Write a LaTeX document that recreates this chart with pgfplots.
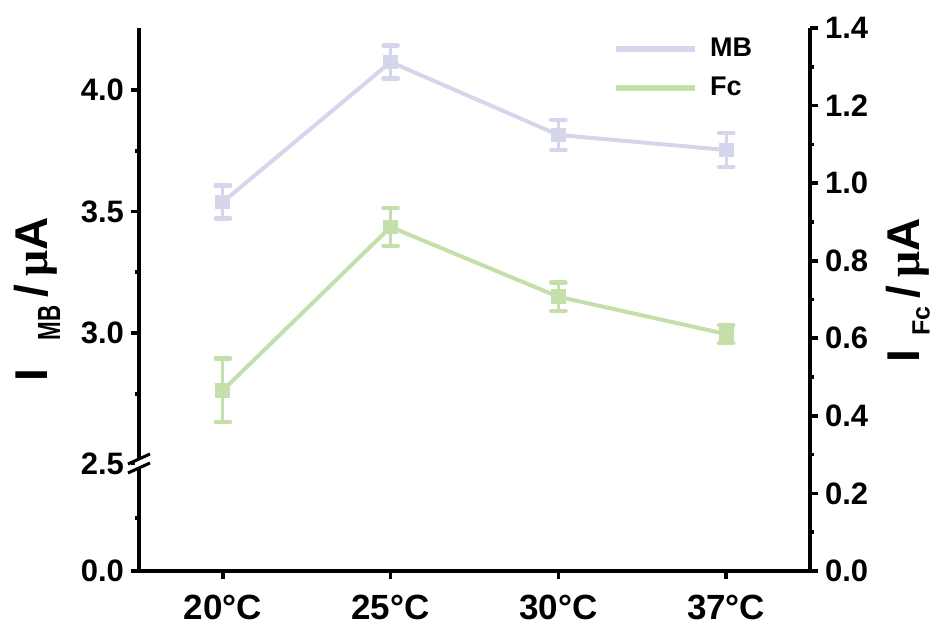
\documentclass[border=0pt]{standalone}
\usepackage{pgfplots}
\pgfplotsset{compat=1.18}
\usepackage{fontspec}
\setmainfont{Liberation Sans}
\newfontfamily\serifmu{Liberation Serif}
\definecolor{mbcol}{RGB}{213,213,235}
\definecolor{fccol}{RGB}{197,223,170}

\pgfplotstableread{
x y e
0 3.539 0.068
1 4.115 0.068
2 3.815 0.062
3 3.753 0.070
}\mbdata
\pgfplotstableread{
x y e
0 0.466 0.082
1 0.887 0.049
2 0.707 0.037
3 0.611 0.023
}\fcdata

\begin{document}
\begin{tikzpicture}
\useasboundingbox (-69.5pt,-31pt) rectangle (399.5pt,285.5pt);
\pgfplotsset{
  every axis/.append style={
    at={(0,0)}, anchor=south west,
    width=335.5pt, height=271.5pt, scale only axis,
    xmin=-0.5, xmax=3.5, clip=false,
    axis line style={-, line width=2pt, black},
    tick style={line width=1.8pt, black},
    tick align=outside,
    major tick length=4pt, minor tick length=2pt,
    /pgf/number format/assume math mode=true,
    yticklabel style={font=\fontsize{15.5}{15.5}\selectfont\bfseries},
  },
  errstyle/.style={
    error bars/.cd, y dir=both, y explicit,
    error bar style={line width=1.6pt},
    error mark options={rotate=90, mark size=3.6pt, line width=2.2pt, line cap=round},
  },
}
\begin{axis}[
  axis y line*=left, axis x line*=bottom,
  ymin=2.0206, ymax=4.255,
  ytick={2.0206,2.463,3,3.5,4}, yticklabels={0.0,2.5,3.0,3.5,4.0},
  minor ytick={2.239,2.75,3.25,3.75},
  xtick={0,1,2,3}, xticklabels={20°C,25°C,30°C,37°C},
  xticklabel style={font=\fontsize{17.5}{17.5}\selectfont\bfseries, yshift=-4.5pt},
  ylabel={\bfseries\fontsize{23}{23}\selectfont I\hspace{14pt}\raisebox{-6.5pt}{\scalebox{0.7}[1]{\fontsize{16}{16}\selectfont MB}}\hspace{4pt}/\hspace{4pt}{\serifmu\bfseries μ}A},
  ylabel style={at={(axis description cs:-0.152,0.5)}, anchor=center},
]
\addplot[mbcol, line width=2pt, mark=square*, mark size=2.7pt, mark options={solid}, errstyle]
  table[x=x, y=y, y error=e] {\mbdata};
\coordinate (brk) at (axis cs:-0.5,2.463);
\end{axis}
\begin{axis}[
  axis y line*=right, axis x line=none,
  ymin=0, ymax=1.4,
  ytick={0,0.2,0.4,0.6,0.8,1.0,1.2,1.4}, minor y tick num=1,
  yticklabel={\pgfmathprintnumber[fixed,fixed zerofill,precision=1]{\tick}},
  ylabel={\bfseries\fontsize{23}{23}\selectfont I\hspace{7pt}\raisebox{-5pt}{\fontsize{12.5}{12.5}\selectfont Fc}\hspace{4pt}/\hspace{4pt}{\serifmu\bfseries μ}A},
  ylabel style={at={(axis description cs:1.146,0.517)}, anchor=center},
  legend style={draw=none, fill=none, at={(axis description cs:0.706,0.99)}, anchor=north west,
    font=\fontsize{13.5}{13.5}\selectfont\bfseries, row sep=5pt, inner sep=0pt},
  legend cell align=left,
  legend image code/.code={\draw[line width=3pt] (0pt,0pt) -- (39.5pt,0pt);},
]
\addlegendimage{mbcol, line width=3pt}
\addlegendentry{\hspace{4pt}MB}
\addplot[fccol, line width=2pt, mark=square*, mark size=2.7pt, mark options={solid}, errstyle]
  table[x=x, y=y, y error=e] {\fcdata};
\addlegendentry{\hspace{4pt}Fc}
\end{axis}
% axis break
\fill[white] ([shift={(-2pt,1.34pt)}]brk) -- ([shift={(2pt,3.16pt)}]brk) -- ([shift={(2pt,-1.34pt)}]brk) -- ([shift={(-2pt,-3.16pt)}]brk) -- cycle;
\draw[line width=1.5pt] ([shift={(-5.5pt,-0.25pt)}]brk) -- ([shift={(5.5pt,4.75pt)}]brk);
\draw[line width=1.5pt] ([shift={(-5.5pt,-4.75pt)}]brk) -- ([shift={(5.5pt,0.25pt)}]brk);
\end{tikzpicture}
\end{document}
